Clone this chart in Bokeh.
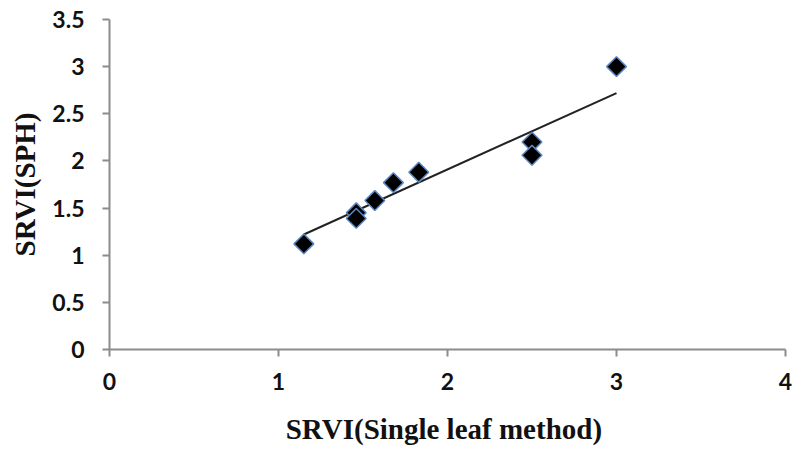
import numpy as np
from bokeh.plotting import figure
from bokeh.embed import file_html
from bokeh.resources import INLINE
from bokeh.models import FixedTicker, Range1d

# Data
srvi_single_leaf = [1.15, 1.46, 1.46, 1.57, 1.68, 1.83, 2.50, 2.50, 3.00]
srvi_sph = [1.12, 1.45, 1.39, 1.58, 1.77, 1.88, 2.20, 2.06, 3.00]
# Linear trendline end points
trend_x = [1.15, 3.00]
trend_y = [1.22, 2.72]
x_ticks = [0, 1, 2, 3, 4]
y_ticks = [0, 0.5, 1, 1.5, 2, 2.5, 3, 3.5]

p = figure(width=793, height=450, output_backend="svg", toolbar_location=None,
           x_range=Range1d(0, 4), y_range=Range1d(0, 3.5),
           min_border_left=109, min_border_right=8, min_border_top=19, min_border_bottom=101)
p.outline_line_color = None
p.xgrid.visible = False
p.ygrid.visible = False

p.line(trend_x, trend_y, line_color="#222222", line_width=2)

p.scatter(srvi_single_leaf, srvi_sph, marker="square", angle=np.pi / 4, size=14,
          fill_color="#000000", line_color="#5b86c0", line_width=1.5)

for ax in (p.xaxis[0], p.yaxis[0]):
    ax.axis_line_color = "#8c8c8c"
    ax.axis_line_width = 2
    ax.major_tick_line_color = "#8c8c8c"
    ax.major_tick_line_width = 2
    ax.major_tick_out = 7
    ax.major_tick_in = 0
    ax.minor_tick_line_color = None
    ax.major_label_text_font = "Lato"
    ax.major_label_text_font_style = "bold"
    ax.major_label_text_font_size = "23px"
    ax.major_label_text_color = "#111111"
    ax.axis_label_text_font = "Liberation Serif"
    ax.axis_label_text_font_style = "bold"
    ax.axis_label_text_font_size = "29px"
    ax.axis_label_text_color = "#111111"

p.xaxis.ticker = FixedTicker(ticks=x_ticks)
p.yaxis.ticker = FixedTicker(ticks=y_ticks)
p.xaxis.major_label_standoff = 16
p.yaxis.major_label_standoff = 18
p.xaxis.axis_label = "SRVI(Single  leaf method)"
p.yaxis.axis_label = "SRVI(SPH)"
p.xaxis.axis_label_standoff = 20
p.yaxis.axis_label_standoff = 8

open("out.html", "w").write(file_html(p, INLINE))
